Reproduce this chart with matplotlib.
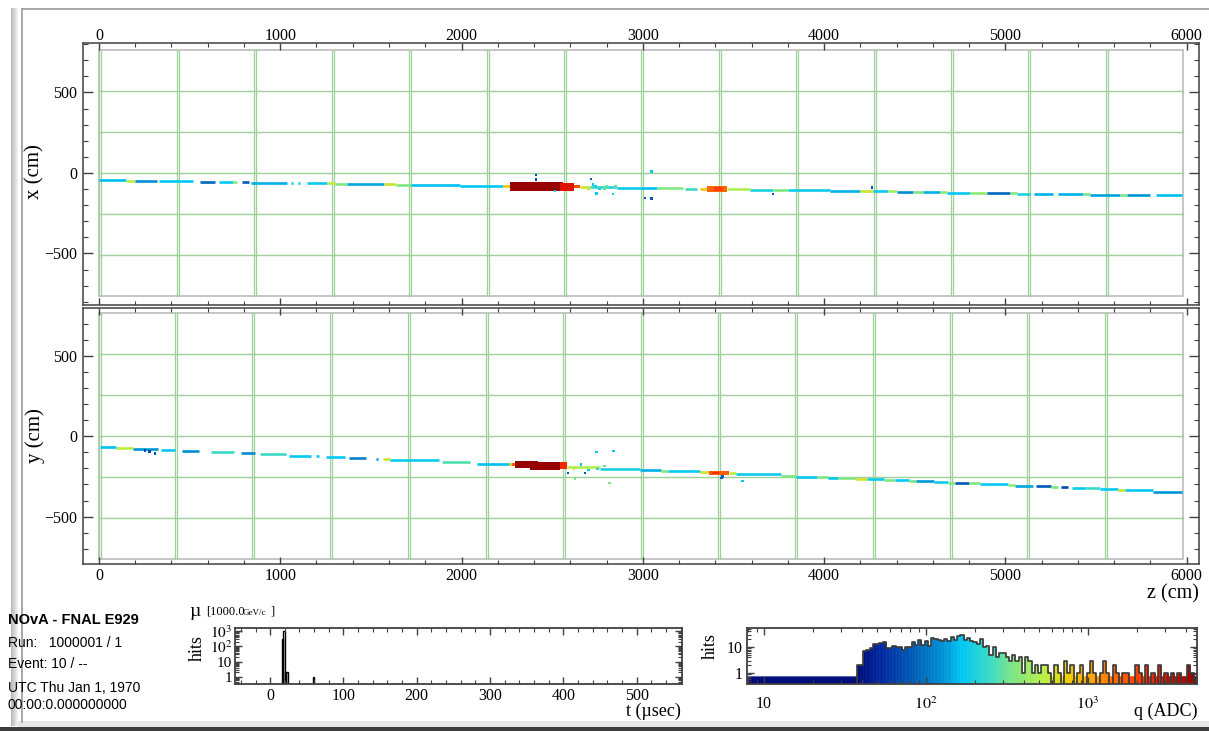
import numpy as np
import matplotlib
matplotlib.use('Agg')
import matplotlib.pyplot as plt
from matplotlib.collections import LineCollection
from matplotlib.patches import Rectangle
from matplotlib.colors import LinearSegmentedColormap, Normalize
from matplotlib.ticker import MultipleLocator, FixedLocator, FixedFormatter, LogLocator, NullFormatter

# ---------------- data ----------------
# XZ view: track hit segments (z start, z end, x, charge ADC)
top_seg_z0 = [0, 150, 200, 330, 560, 660, 740, 790, 840, 1060, 1100, 1150, 1260, 1300, 1370, 1570, 1640, 1720, 1990, 2230,
              2655, 2710, 2860, 2990, 3080, 3230, 3315, 3464, 3590, 3720, 3800, 4030, 4198, 4271, 4354, 4400, 4492, 4547,
              4639, 4676, 4805, 4897, 5025, 5062, 5160, 5290, 5430, 5467, 5632, 5669, 5830]
top_seg_z1 = [150, 200, 320, 520, 640, 740, 760, 830, 1040, 1070, 1110, 1260, 1300, 1370, 1570, 1640, 1720, 1990, 2230, 2267,
              2710, 2860, 2990, 3080, 3220, 3300, 3354, 3590, 3720, 3800, 4030, 4198, 4271, 4354, 4400, 4492, 4547, 4639,
              4676, 4805, 4897, 5025, 5062, 5136, 5260, 5430, 5467, 5632, 5669, 5800, 5972]
top_seg_x = [-46, -48, -49, -52, -55, -56, -57, -58, -60, -62, -63, -64, -65, -66, -69, -71, -72, -75, -79, -81,
             -88, -90, -92, -94, -96, -97, -99, -102, -104, -105, -108, -111, -113, -114, -115, -117, -118, -119,
             -120, -122, -124, -126, -127, -128, -129, -131, -132, -134, -135, -137, -140]
top_seg_q = [160, 550, 120, 170, 90, 170, 400, 80, 150, 170, 170, 180, 550, 350, 140, 600, 350, 160, 170, 800,
             600, 220, 180, 160, 350, 250, 800, 500, 200, 350, 180, 150, 600, 180, 450, 120, 350, 150,
             400, 170, 400, 90, 350, 200, 150, 150, 350, 140, 350, 130, 160]
# XZ view: dense deposits
top_blk_z0 = [2267, 2543, 2620, 3354, 3395]
top_blk_z1 = [2560, 2620, 2655, 3464, 3440]
top_blk_lo = [-112, -110, -95, -116, -112]
top_blk_hi = [-58, -62, -72, -84, -88]
top_blk_q = [4500, 3000, 1800, 1500, 2000]
# XZ view: isolated hits
top_pt_z = [2411, 2411, 2714, 2745, 2836, 3049, 3012, 3049, 3718, 2515, 4265, 2740, 2760, 2790, 2800, 2700, 2850, 2725]
top_pt_x = [-14, -41, -37, -126, -130, 10, -155, -160, -132, -112, -92, -80, -100, -95, -82, -100, -85, -70]
top_pt_q = [70, 70, 80, 170, 180, 170, 80, 80, 80, 180, 80, 200, 200, 300, 350, 600, 300, 170]

# YZ view
bot_seg_z0 = [7, 93, 189, 342, 457, 620, 783, 888, 1051, 1200, 1252, 1377, 1530, 1569, 1607, 1895, 2087, 2260, 2580, 2765,
              2984, 3100, 3140, 3316, 3473, 3512, 3765, 3844, 3961, 4019, 4078, 4175, 4234, 4331, 4391, 4469, 4508, 4606,
              4684, 4723, 4800, 4860, 5015, 5053, 5170, 5250, 5307, 5368, 5446, 5523, 5622, 5660, 5815]
bot_seg_z1 = [93, 189, 323, 419, 553, 745, 860, 1033, 1167, 1212, 1359, 1473, 1540, 1607, 1876, 2049, 2260, 2288, 2765, 2984,
              3100, 3140, 3316, 3365, 3512, 3765, 3844, 3961, 4019, 4078, 4175, 4234, 4331, 4391, 4469, 4508, 4606, 4684,
              4723, 4800, 4860, 5015, 5053, 5152, 5250, 5289, 5346, 5446, 5523, 5622, 5660, 5815, 5972]
bot_seg_y = [-70, -75, -80, -86, -92, -100, -106, -113, -120, -124, -129, -135, -140, -142, -149, -160, -170, -174, -193, -203,
             -210, -214, -219, -224, -231, -238, -246, -251, -255, -257, -261, -265, -268, -272, -275, -278, -281, -285,
             -288, -291, -294, -299, -304, -307, -312, -315, -317, -321, -325, -329, -332, -336, -344]
bot_seg_q = [160, 550, 130, 170, 120, 250, 120, 250, 170, 170, 170, 110, 130, 600, 180, 280, 160, 800, 500, 200,
             150, 350, 180, 600, 550, 180, 350, 170, 350, 170, 350, 650, 180, 350, 170, 350, 130, 180,
             350, 80, 350, 170, 400, 140, 80, 350, 70, 180, 250, 170, 600, 170, 130]
bot_blk_z0 = [2277, 2295, 2380, 2545, 3365, 3380]
bot_blk_z1 = [2295, 2420, 2545, 2580, 3473, 3420]
bot_blk_lo = [-185, -200, -211, -205, -240, -236]
bot_blk_hi = [-165, -154, -160, -160, -217, -220]
bot_blk_q = [1600, 4500, 4500, 2500, 1600, 2300]
bot_pt_z = [254, 280, 309, 2745, 2837, 2626, 2815, 2587, 2681, 2700, 2750, 2660, 3433, 3551, 3440, 2620, 2790]
bot_pt_y = [-88, -95, -106, -97, -91, -267, -290, -228, -228, -210, -205, -175, -261, -278, -250, -200, -185]
bot_pt_q = [70, 70, 80, 170, 170, 350, 350, 80, 80, 170, 200, 170, 80, 170, 90, 600, 300]

# detector geometry
module_rows = [-510, -255, 0, 255, 510]
top_planes = [430, 855, 1285, 1710, 2140, 2565, 2990, 3420, 3845, 4275, 4700, 5125, 5555]
bot_planes = [419, 844, 1274, 1705, 2135, 2560, 2990, 3415, 3840, 4270, 4694, 5119, 5549]

# timing histogram (2 usec bins)
t_bin_lo = [16, 18, 20, 22, 58]
t_counts = [300, 1000, 2, 2, 1]
t_bin_w = 2

# charge histogram (log bins: start 10^0.912, width 0.02 decades)
q_counts = [0, 0, 0, 0, 0, 0, 0, 0, 0, 0, 0, 0, 0, 0, 0, 0, 0, 0, 0, 0, 0, 0, 0, 0, 0, 0, 0, 0, 0, 0, 0, 0, 0,
            2, 2, 7, 8, 9, 13, 13, 14, 15, 9,
            9, 11, 10, 10, 8, 10, 10, 15, 12, 18,
            12, 17, 11, 22, 20, 19, 17, 20, 17, 24,
            19, 26, 29, 18, 22, 17, 16, 13, 20, 10,
            11, 5, 10, 4, 6, 6, 4, 3, 5, 3,
            4, 1, 4, 3, 1,
            2, 1, 2, 2, 1, 0, 2, 1, 0, 3, 1, 2, 0, 1, 2, 0, 1, 3, 1, 0,
            1, 3, 1, 0, 2, 1, 0, 1, 1, 0, 0, 2, 1, 0, 2, 0, 1, 0, 2, 0,
            1, 0, 1, 0, 1, 0, 0, 2, 1, 0]
q_log_lo = 0.912
q_log_w = 0.02

# ---------------- style ----------------
W, H = 1209, 731
plt.rcParams['font.family'] = ['Liberation Serif', 'DejaVu Serif']
plt.rcParams['mathtext.fontset'] = 'stix'

pal_stops = [0.0, 0.07, 0.17, 0.26, 0.31, 0.40, 0.45, 0.55, 0.62, 0.70, 0.76, 0.85, 0.92, 1.0]
pal_colors = ['#000c78', '#0028a0', '#0060b8', '#0098d8', '#00c8f5', '#40dcc0', '#78e48c', '#b8f048',
              '#f0d000', '#ffa000', '#ff6800', '#ff3000', '#d81000', '#900000']
cmap = LinearSegmentedColormap.from_list('nova', list(zip(pal_stops, pal_colors)))
qnorm = Normalize(1.57, 3.67)


def qcol(q):
    return cmap(qnorm(np.log10(q)))


SPINE = '#404040'
GREEN = '#9fd09a'

fig = plt.figure(figsize=(W / 100, H / 100), dpi=100)
fig.patch.set_facecolor('white')


def ax_px(l, t, r, b, **kw):
    return fig.add_axes([l / W, 1 - b / H, (r - l) / W, (b - t) / H], **kw)


# background frame
bg = fig.add_axes([0, 0, 1, 1], zorder=-5)
bg.set_xlim(0, W)
bg.set_ylim(H, 0)
bg.axis('off')
grad = np.linspace(0.72, 0.95, 16).reshape(1, -1)
bg.imshow(grad, cmap='gray', vmin=0, vmax=1, extent=[11, 18, 726, 8], aspect='auto')
bg.plot([21.5, 21.5], [8.5, 722], color='#a0a0a0', lw=1.3)
bg.plot([21.5, W], [8.5, 8.5], color='#a0a0a0', lw=1.3)
bg.add_patch(Rectangle((18, 721), W - 18, 6, color='#e6e6e6', lw=0))
bg.add_patch(Rectangle((0, 727), W, 4, color='#3c3c3c', lw=0))


def style_spines(ax, lw=1.3):
    for s in ax.spines.values():
        s.set_color(SPINE)
        s.set_linewidth(lw)


def draw_view(ax, ylim, planes, sz0, sz1, sv, sq, bz0, bz1, blo, bhi, bq, pz, pv, pq, labeltop):
    ax.set_xlim(-88, 6068)
    ax.set_ylim(*ylim)
    ax.add_patch(Rectangle((0, -765), 5977, 1530, fill=False, ec='#bcbcbc', lw=1.2, zorder=1))
    for yv in module_rows:
        ax.plot([0, 5977], [yv, yv], color=GREEN, lw=1.0, zorder=1)
    for zp in list(planes) + [0]:
        for dz in (0, 12):
            ax.plot([zp + dz, zp + dz], [-765, 765], color=GREEN, lw=0.9, zorder=1)
    segs = [[(a, v), (b, v)] for a, b, v in zip(sz0, sz1, sv)]
    lc = LineCollection(segs, colors=[qcol(q) for q in sq], linewidths=1.9, capstyle='butt', zorder=3)
    ax.add_collection(lc)
    for a, b, lo, hi, q in zip(bz0, bz1, blo, bhi, bq):
        ax.add_patch(Rectangle((a, lo), b - a, hi - lo, fc=qcol(q), ec='none', zorder=4))
    for z, v, q in zip(pz, pv, pq):
        ax.add_patch(Rectangle((z - 7, v - 8), 14, 16, fc=qcol(q), ec='none', zorder=4))
    style_spines(ax, 1.1)
    ax.xaxis.set_major_locator(MultipleLocator(1000))
    ax.xaxis.set_minor_locator(MultipleLocator(200))
    ax.yaxis.set_major_locator(MultipleLocator(500))
    ax.yaxis.set_minor_locator(MultipleLocator(100))
    ax.tick_params(which='both', direction='in', color=SPINE, labelsize=11.5, top=True, bottom=True,
                   left=True, right=True)
    ax.tick_params(axis='x', which='major', length=5, width=1.0)
    ax.tick_params(axis='x', which='minor', length=3, width=0.8)
    ax.tick_params(axis='y', which='major', length=7.5, width=1.0, pad=4)
    ax.tick_params(axis='y', which='minor', length=3.8, width=0.8)
    if labeltop:
        ax.tick_params(axis='x', labeltop=True, labelbottom=False, pad=-1)
    else:
        ax.tick_params(axis='x', labeltop=False, labelbottom=True, pad=3)
    ax.yaxis.set_major_formatter(plt.FuncFormatter(lambda v, p: ('\u2212%d' % -v) if v < 0 else '%d' % v))


ax_top = ax_px(83, 43, 1199, 305)
draw_view(ax_top, (-820, 807), top_planes, top_seg_z0, top_seg_z1, top_seg_x, top_seg_q,
          top_blk_z0, top_blk_z1, top_blk_lo, top_blk_hi, top_blk_q, top_pt_z, top_pt_x, top_pt_q, True)
ax_bot = ax_px(83, 308, 1199, 564)
draw_view(ax_bot, (-795, 798), bot_planes, bot_seg_z0, bot_seg_z1, bot_seg_y, bot_seg_q,
          bot_blk_z0, bot_blk_z1, bot_blk_lo, bot_blk_hi, bot_blk_q, bot_pt_z, bot_pt_y, bot_pt_q, False)

fig.text(35 / W, 1 - 172 / H, 'x (cm)', rotation=90, ha='center', va='center', fontsize=15)
fig.text(35 / W, 1 - 436 / H, 'y (cm)', rotation=90, ha='center', va='center', fontsize=15)
fig.text(1199 / W, 1 - 594 / H, 'z (cm)', ha='right', va='center', fontsize=14.5)

# info text
sans = ['Liberation Sans', 'DejaVu Sans']
fig.text(8 / W, 1 - 620 / H, 'NOvA - FNAL E929', family=sans, weight='bold', fontsize=10.5, va='center')
fig.text(8 / W, 1 - 643 / H, 'Run:   1000001 / 1', family=sans, fontsize=10, va='center')
fig.text(8 / W, 1 - 664 / H, 'Event: 10 / --', family=sans, fontsize=10, va='center')
fig.text(8 / W, 1 - 688 / H, 'UTC Thu Jan 1, 1970', family=sans, fontsize=10, va='center')
fig.text(8 / W, 1 - 705 / H, '00:00:0.000000000', family=sans, fontsize=10, va='center')

# timing histogram
ax_t = ax_px(235, 628, 682, 684)
ax_t.set_yscale('log')
ax_t.set_xlim(-48, 562)
ax_t.set_ylim(0.35, 1600)
ax_t.bar(t_bin_lo, t_counts, width=t_bin_w, align='edge', bottom=1e-3, fill=False, edgecolor='black', lw=1.0)
style_spines(ax_t)
ax_t.xaxis.set_major_locator(MultipleLocator(100))
ax_t.xaxis.set_minor_locator(MultipleLocator(20))
ax_t.yaxis.set_major_locator(FixedLocator([1, 10, 100, 1000]))
ax_t.yaxis.set_major_formatter(FixedFormatter(['1', '10', '$10^{2}$', '$10^{3}$']))
ax_t.yaxis.set_minor_locator(LogLocator(base=10, subs=np.arange(2, 10), numticks=20))
ax_t.yaxis.set_minor_formatter(NullFormatter())
ax_t.tick_params(which='both', direction='in', color=SPINE, labelsize=11.5, top=True, bottom=True,
                 left=True, right=True)
ax_t.tick_params(which='major', length=5, width=1.0)
ax_t.tick_params(which='minor', length=3, width=0.8)
ax_t.tick_params(axis='x', pad=3)
ax_t.tick_params(axis='y', pad=2, labelsize=11)
fig.text(197 / W, 1 - 648 / H, 'hits', rotation=90, ha='center', va='center', fontsize=13)
fig.text(681 / W, 1 - 711 / H, 't (\u00b5sec)', ha='right', va='center', fontsize=13)
fig.text(189 / W, 1 - 611 / H, '\u00b5', ha='left', va='center', fontsize=14)
fig.text(206 / W, 1 - 612 / H, '[1000.0', ha='left', va='center', fontsize=9)
fig.text(243 / W, 1 - 613 / H, 'GeV/c', ha='left', va='center', fontsize=6.5)
fig.text(271 / W, 1 - 612 / H, ']', ha='left', va='center', fontsize=9)

# charge histogram
ax_q = ax_px(747, 628, 1197, 684)
ax_q.set_xscale('log')
ax_q.set_yscale('log')
ax_q.set_xlim(10 ** 0.895, 10 ** 3.673)
ax_q.set_ylim(0.38, 54)
nb = len(q_counts)
edges = 10 ** (q_log_lo + q_log_w * np.arange(nb + 1))
lefts, rights = edges[:-1], edges[1:]
floor = 0.74
first = next(i for i, c in enumerate(q_counts) if c > 0)
# strip below first filled bin
ax_q.bar([10 ** 0.8], [floor], width=[lefts[first] - 10 ** 0.8], align='edge', bottom=1e-3,
         color=qcol(10 ** 1.5), lw=0)
heights = [max(c, floor) for c in q_counts[first:]]
cols = [qcol(np.sqrt(l * r)) for l, r in zip(lefts[first:], rights[first:])]
ax_q.bar(lefts[first:], heights, width=(rights - lefts)[first:], align='edge', bottom=1e-3,
         color=cols, edgecolor=cols, lw=0.4)
ax_q.plot([10 ** 0.8, lefts[first]], [floor, floor], color='#5868a8', lw=0.8)
segs = []
cur = None
for l, r, c in zip(lefts, rights, q_counts):
    if c > 0:
        if cur is None:
            cur = [(l, 1e-3), (l, c)]
        else:
            cur.append((l, c))
        cur.append((r, c))
    elif cur is not None:
        cur.append((cur[-1][0], 1e-3))
        segs.append(cur)
        cur = None
if cur is not None:
    cur.append((cur[-1][0], 1e-3))
    segs.append(cur)
ax_q.add_collection(LineCollection(segs, colors='#383838', linewidths=1.2))
style_spines(ax_q)
ax_q.xaxis.set_major_locator(FixedLocator([10, 100, 1000]))
ax_q.xaxis.set_major_formatter(FixedFormatter(['10', '$10^{2}$', '$10^{3}$']))
ax_q.xaxis.set_minor_locator(LogLocator(base=10, subs=np.arange(2, 10), numticks=20))
ax_q.xaxis.set_minor_formatter(NullFormatter())
ax_q.yaxis.set_major_locator(FixedLocator([1, 10]))
ax_q.yaxis.set_major_formatter(FixedFormatter(['1', '10']))
ax_q.yaxis.set_minor_locator(LogLocator(base=10, subs=np.arange(2, 10), numticks=20))
ax_q.yaxis.set_minor_formatter(NullFormatter())
ax_q.tick_params(which='both', direction='in', color=SPINE, labelsize=11.5, top=True, bottom=True,
                 left=True, right=True)
ax_q.tick_params(which='major', length=5, width=1.0)
ax_q.tick_params(which='minor', length=3, width=0.8)
ax_q.tick_params(axis='x', pad=9)
ax_q.tick_params(axis='y', pad=3)
fig.text(710 / W, 1 - 646 / H, 'hits', rotation=90, ha='center', va='center', fontsize=13)
fig.text(1197 / W, 1 - 711 / H, 'q (ADC)', ha='right', va='center', fontsize=13)

fig.savefig('out.png', dpi=100)
